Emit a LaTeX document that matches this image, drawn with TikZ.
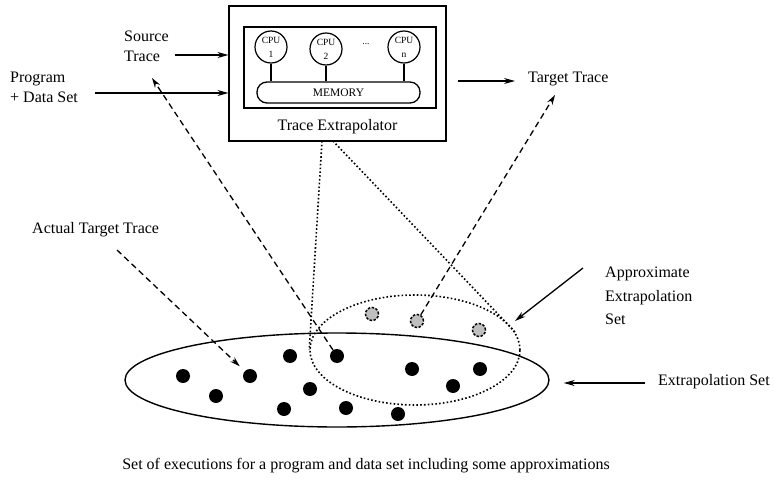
\documentclass[tikz,border=0pt]{standalone}
\usepackage{fontspec}
\setmainfont{Liberation Serif}
\usetikzlibrary{arrows.meta,shapes.geometric}

\tikzstyle{label-text}=[font=\fontsize{16}{20}\selectfont, inner sep=0pt]
\tikzstyle{small-text}=[font=\fontsize{9.5}{14}\selectfont, inner sep=0pt]
\tikzstyle{cpu}=[circle, draw, line width=1.2pt, minimum size=32pt, inner sep=0pt, small-text, align=center]
\tikzstyle{black-dot}=[circle, fill=black, minimum size=14pt, inner sep=0pt]
\tikzstyle{grey-dot}=[circle, draw, fill=gray!50, line width=1.5pt, dash pattern=on 2.5pt off 1.5pt, minimum size=13pt, inner sep=0pt]
\tikzstyle{solid-arrow}=[-{Stealth[length=11pt, width=6pt]}, line width=1.3pt]
\tikzstyle{dashed-arrow}=[-{Stealth[open, length=10pt, width=6pt]}, line width=1.3pt, dash pattern=on 6pt off 4pt]
\tikzstyle{dotted-line}=[line width=1.6pt, dash pattern=on 1.6pt off 2.2pt]

\begin{document}
\begin{tikzpicture}[x=1pt, y=-1pt]
  \useasboundingbox (0,0) rectangle (774,487);

  \node (box) at (337.5,73.5) [draw, line width=1.1pt, minimum width=217pt, minimum height=135pt] {};
  \node (cpus) at (340,67.5) [draw, line width=1.4pt, minimum width=192pt, minimum height=81pt] {};
  \node (cpu-1) at (271,47) [cpu] {CPU\\1};
  \node (cpu-2) at (326,49) [cpu] {CPU\\2};
  \node (cpu-n) at (404,47) [cpu] {CPU\\n};
  \node (cpu-dots) at (366,44) [small-text] {...};
  \node (memory) at (338.5,92.5) [draw, rounded corners=10pt, line width=1.3pt, minimum width=163pt, minimum height=21pt, font=\fontsize{11.5}{13}\selectfont, inner sep=0pt] {MEMORY};
  \foreach \i in {1,2,n}
    \draw[line width=1.1pt] (cpu-\i) -- (cpu-\i |- memory.north);
  \node (title) at (337.5,127) [label-text] {Trace Extrapolator};

  \node (source) at (124,46) [label-text, anchor=west, align=left] {Source\\Trace};
  \node (program) at (10,87.5) [label-text, anchor=west, align=left] {Program\\+ Data Set};
  \node (target) at (528,79) [label-text, anchor=west] {Target Trace};
  \node (actual) at (32,230) [label-text, anchor=west] {Actual Target Trace};
  \node (approx-label) at (605,296) [label-text, anchor=west, align=left, font=\fontsize{16}{23.5}\selectfont] {Approximate\\Extrapolation\\Set};
  \node (extrap-label) at (658,382) [label-text, anchor=west] {Extrapolation Set};
  \node (caption) at (366,466) [label-text] {Set of executions for a program and data set including some approximations};

  \node (extrap) at (337,380) [ellipse, draw, line width=1.4pt, minimum width=424pt, minimum height=94pt, inner sep=0pt] {};
  \node (approx) at (415,350) [ellipse, draw, dotted-line, minimum width=210pt, minimum height=110pt, inner sep=0pt] {};

  \foreach \x/\y [count=\i] in {183/376, 216/396, 250/376, 290/356, 310/389, 284/409,
                                337/356, 346/408, 398/414, 412/369, 453/386, 480/369}
    \node (dot-\i) at (\x,\y) [black-dot] {};
  \foreach \x/\y [count=\i] in {372/314, 417/321, 479/330}
    \node (grey-\i) at (\x,\y) [grey-dot] {};

  \coordinate (box-a) at (322,141);
  \coordinate (box-b) at (333,141);
  \draw[dotted-line] (box-a) -- (approx.west);
  \draw[dotted-line] (box-b) -- (approx.10);

  \coordinate (source-tail) at (175,55);
  \coordinate (program-tail) at (95,93);
  \coordinate (target-tail) at (458,81);
  \coordinate (approx-tail) at (583,268);
  \coordinate (approx-tip) at (515,321);
  \coordinate (extrap-tail) at (645,383);
  \draw[solid-arrow] (source-tail) -- (source-tail -| box.west);
  \draw[solid-arrow] (program-tail) -- (program-tail -| box.west);
  \draw[solid-arrow] (target-tail) -- ++(57,0);
  \draw[solid-arrow] (approx-tail) -- (approx-tip);
  \draw[solid-arrow, shorten >=14pt] (extrap-tail) -- (extrap-tail -| extrap.east);

  \coordinate (source-tip) at (152,78);
  \coordinate (actual-tail) at (117,250);
  \coordinate (target-tip) at (555,95);
  \draw[dashed-arrow] (dot-7) -- (source-tip);
  \draw[dashed-arrow, shorten >=7pt] (actual-tail) -- (dot-3);
  \draw[dashed-arrow] (grey-2) -- (target-tip);
\end{tikzpicture}
\end{document}
